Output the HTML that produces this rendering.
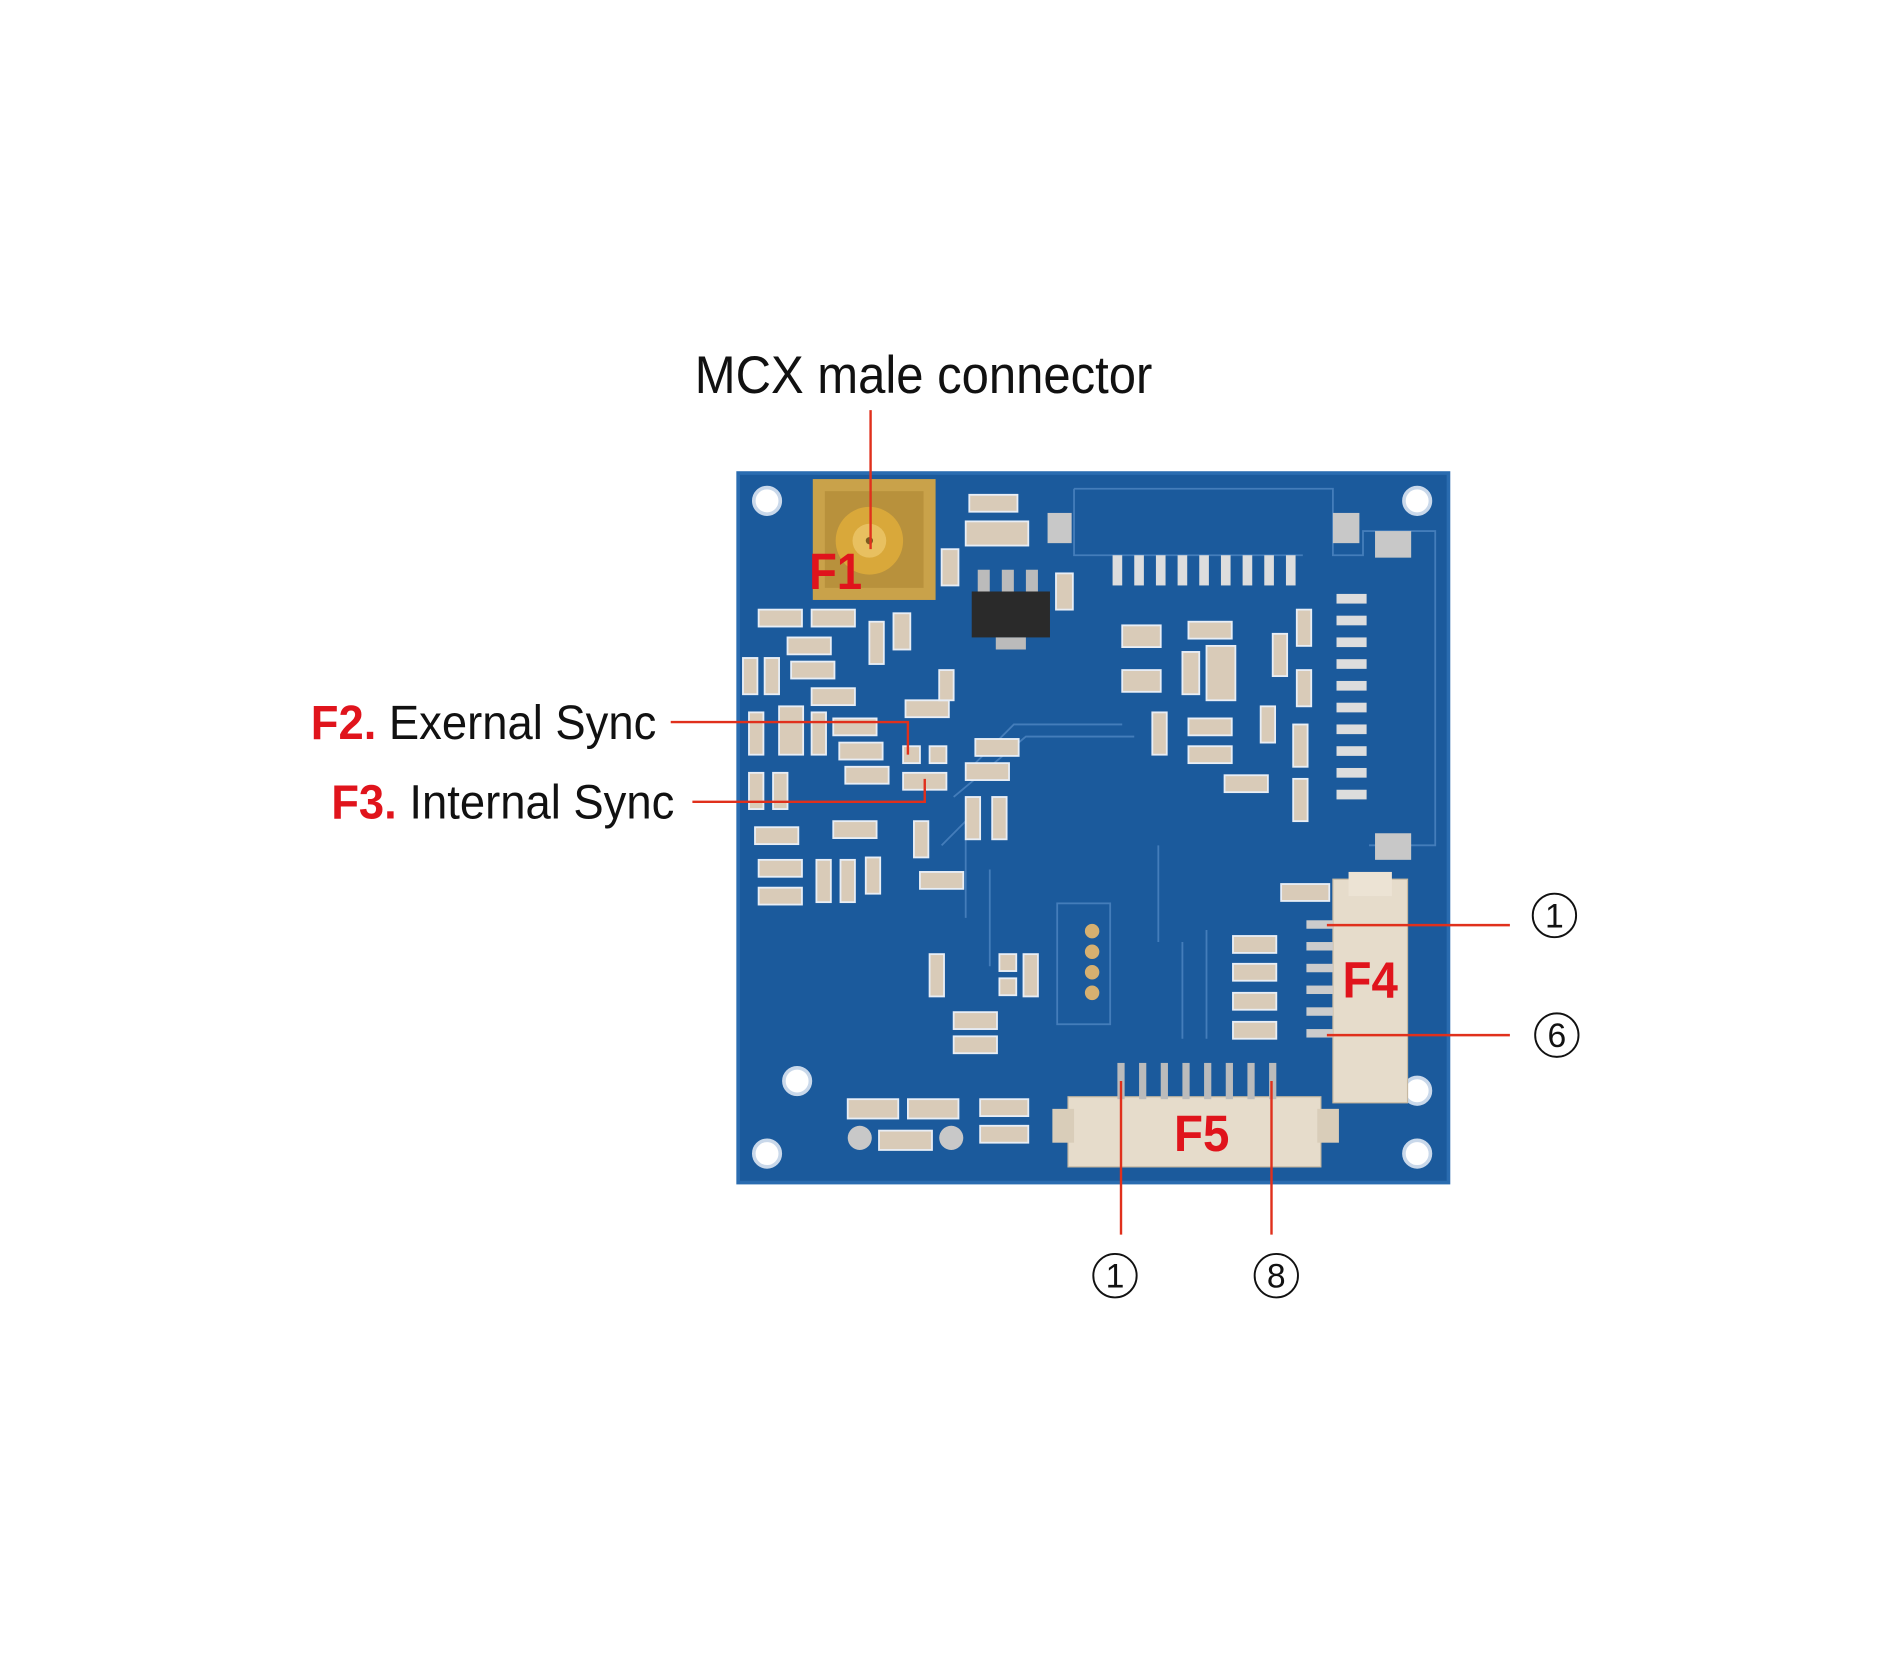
<!DOCTYPE html>
<html><head><meta charset="utf-8"><style>html,body{margin:0;padding:0;background:#fff}svg{display:block}</style></head>
<body>
<svg width="1891" height="1654" viewBox="0 0 1891 1654" xmlns="http://www.w3.org/2000/svg">
<g transform="scale(1.2122,1.2252)">
<g transform="matrix(0.9932,0,0,0.9866,2.086,-0.66)">
<!-- board -->
<rect x="611" y="392" width="590" height="587" fill="#1b5a9c"/>
<rect x="611" y="392" width="590" height="587" fill="none" stroke="#2a6cb0" stroke-width="3"/>
<g fill="none" stroke="#4f86c2" stroke-width="1.5" opacity="0.8">
<path d="M890 405 H1105 V460 H1130 V440 H1190 V700 H1135"/>
<path d="M890 405 V460 H1080"/>
<rect x="876" y="748" width="44" height="100"/>
<path d="M800 640 L840 600 H930 M790 660 L850 610 H940 M780 700 L800 680 V760 M820 720 V800 M960 700 V780 M980 780 V860 M1000 770 V860"/>
</g>
<g fill="#fff" stroke="#c9d8ea" stroke-width="3">
<circle cx="635" cy="415" r="11"/><circle cx="1175" cy="415" r="11"/>
<circle cx="660" cy="895" r="11"/><circle cx="635" cy="955" r="11"/>
<circle cx="1175" cy="955" r="11"/><circle cx="1175" cy="903" r="11"/>
</g>
<rect x="673" y="397" width="102" height="100" fill="#c9a24a"/>
<rect x="683" y="407" width="82" height="80" fill="#b8913c"/>
<circle cx="720" cy="448" r="28" fill="#d9a83a"/><circle cx="720" cy="448" r="14" fill="#e8c060"/><circle cx="720" cy="448" r="3" fill="#7a5a20"/>
<rect x="805" y="490" width="65" height="38" fill="#2a2a2a"/>
<g fill="#bbb"><rect x="810" y="472" width="10" height="18"/><rect x="830" y="472" width="10" height="18"/><rect x="850" y="472" width="10" height="18"/><rect x="825" y="528" width="25" height="10"/></g>
<g fill="#d9cbb8" stroke="#e8eef6" stroke-width="1.5">
<rect x="628" y="505" width="36" height="14"/><rect x="672" y="505" width="36" height="14"/><rect x="652" y="528" width="36" height="14"/>
<rect x="615" y="545" width="12" height="30"/><rect x="633" y="545" width="12" height="30"/><rect x="655" y="548" width="36" height="14"/>
<rect x="672" y="570" width="36" height="14"/><rect x="720" y="515" width="12" height="35"/><rect x="740" y="508" width="14" height="30"/>
<rect x="620" y="590" width="12" height="35"/><rect x="645" y="585" width="20" height="40"/><rect x="672" y="590" width="12" height="35"/>
<rect x="690" y="595" width="36" height="14"/><rect x="695" y="615" width="36" height="14"/><rect x="700" y="635" width="36" height="14"/>
<rect x="620" y="640" width="12" height="30"/><rect x="640" y="640" width="12" height="30"/><rect x="625" y="685" width="36" height="14"/>
<rect x="690" y="680" width="36" height="14"/><rect x="628" y="712" width="36" height="14"/><rect x="628" y="735" width="36" height="14"/>
<rect x="676" y="712" width="12" height="35"/><rect x="696" y="712" width="12" height="35"/><rect x="717" y="710" width="12" height="30"/>
<rect x="750" y="580" width="36" height="14"/><rect x="748" y="618" width="14" height="14"/><rect x="770" y="618" width="14" height="14"/>
<rect x="748" y="640" width="36" height="14"/><rect x="808" y="612" width="36" height="14"/><rect x="800" y="632" width="36" height="14"/>
<rect x="800" y="660" width="12" height="35"/><rect x="822" y="660" width="12" height="35"/><rect x="757" y="680" width="12" height="30"/>
<rect x="762" y="722" width="36" height="14"/><rect x="778" y="555" width="12" height="25"/><rect x="780" y="455" width="14" height="30"/>
<rect x="875" y="475" width="14" height="30"/><rect x="803" y="410" width="40" height="14"/><rect x="800" y="432" width="52" height="20"/>
<rect x="930" y="518" width="32" height="18"/><rect x="930" y="555" width="32" height="18"/><rect x="985" y="515" width="36" height="14"/>
<rect x="980" y="540" width="14" height="35"/><rect x="1000" y="535" width="24" height="45"/><rect x="955" y="590" width="12" height="35"/>
<rect x="985" y="595" width="36" height="14"/><rect x="985" y="618" width="36" height="14"/><rect x="1015" y="642" width="36" height="14"/>
<rect x="1045" y="585" width="12" height="30"/><rect x="1055" y="525" width="12" height="35"/><rect x="1075" y="505" width="12" height="30"/>
<rect x="1075" y="555" width="12" height="30"/><rect x="1072" y="600" width="12" height="35"/><rect x="1072" y="645" width="12" height="35"/>
<rect x="1022" y="775" width="36" height="14"/><rect x="1022" y="798" width="36" height="14"/><rect x="1022" y="822" width="36" height="14"/><rect x="1022" y="846" width="36" height="14"/>
<rect x="1062" y="732" width="40" height="14"/><rect x="770" y="790" width="12" height="35"/><rect x="828" y="790" width="14" height="14"/><rect x="828" y="810" width="14" height="14"/>
<rect x="848" y="790" width="12" height="35"/><rect x="790" y="838" width="36" height="14"/><rect x="790" y="858" width="36" height="14"/>
<rect x="702" y="910" width="42" height="16"/><rect x="752" y="910" width="42" height="16"/><rect x="812" y="910" width="40" height="14"/><rect x="812" y="932" width="40" height="14"/>
<rect x="728" y="936" width="44" height="16"/>
</g>
<g fill="#c8c8c8"><rect x="868" y="425" width="20" height="25"/><rect x="1105" y="425" width="22" height="25"/><rect x="1140" y="440" width="30" height="22"/><rect x="1140" y="690" width="30" height="22"/>
<circle cx="712" cy="942" r="10"/><circle cx="788" cy="942" r="10"/></g>
<g fill="#ddd"><rect x="922" y="460" width="8" height="25"/><rect x="940" y="460" width="8" height="25"/><rect x="958" y="460" width="8" height="25"/><rect x="976" y="460" width="8" height="25"/><rect x="994" y="460" width="8" height="25"/><rect x="1012" y="460" width="8" height="25"/><rect x="1030" y="460" width="8" height="25"/><rect x="1048" y="460" width="8" height="25"/><rect x="1066" y="460" width="8" height="25"/>
<rect x="1108" y="492" width="25" height="8"/><rect x="1108" y="510" width="25" height="8"/><rect x="1108" y="528" width="25" height="8"/><rect x="1108" y="546" width="25" height="8"/><rect x="1108" y="564" width="25" height="8"/><rect x="1108" y="582" width="25" height="8"/><rect x="1108" y="600" width="25" height="8"/><rect x="1108" y="618" width="25" height="8"/><rect x="1108" y="636" width="25" height="8"/><rect x="1108" y="654" width="25" height="8"/></g>
<g fill="#d6b070"><circle cx="905" cy="771" r="6"/><circle cx="905" cy="788" r="6"/><circle cx="905" cy="805" r="6"/><circle cx="905" cy="822" r="6"/></g>
<rect x="1105" y="728" width="62" height="185" fill="#e6dccb" stroke="#c7b9a2"/>
<rect x="1118" y="722" width="36" height="20" fill="#ece3d4"/>
<g fill="#ccc"><rect x="1083" y="762" width="22" height="7"/><rect x="1083" y="780" width="22" height="7"/><rect x="1083" y="798" width="22" height="7"/><rect x="1083" y="816" width="22" height="7"/><rect x="1083" y="834" width="22" height="7"/><rect x="1083" y="852" width="22" height="7"/></g>
<rect x="885" y="908" width="210" height="58" fill="#e6dccb" stroke="#c7b9a2"/>
<rect x="872" y="918" width="18" height="28" fill="#d9cdb9"/><rect x="1092" y="918" width="18" height="28" fill="#d9cdb9"/>
<g fill="#bbb"><rect x="926" y="880" width="6" height="30"/><rect x="944" y="880" width="6" height="30"/><rect x="962" y="880" width="6" height="30"/><rect x="980" y="880" width="6" height="30"/><rect x="998" y="880" width="6" height="30"/><rect x="1016" y="880" width="6" height="30"/><rect x="1034" y="880" width="6" height="30"/><rect x="1052" y="880" width="6" height="30"/></g>
<g font-family="Liberation Sans, sans-serif" font-weight="bold" fill="#e0141c" font-size="42">
<text x="670" y="488" textLength="44" lengthAdjust="spacingAndGlyphs">F1</text><text x="1113" y="826" textLength="46" lengthAdjust="spacingAndGlyphs">F4</text><text x="973" y="953" textLength="46" lengthAdjust="spacingAndGlyphs">F5</text></g>
<g stroke="#e0301c" stroke-width="2" fill="none">
<path d="M721 340 V455"/>
<path d="M555 598 H752 V625"/>
<path d="M573 664 H766 V645"/>
<path d="M1100 766 H1252"/>
<path d="M1100 857 H1252"/>
<path d="M929 895 V1022"/>
<path d="M1054 895 V1022"/>
</g>
<g font-family="Liberation Sans, sans-serif" fill="#111">
<text x="575" y="326" font-size="44" textLength="380" lengthAdjust="spacingAndGlyphs">MCX male connector</text>
<text x="256" y="612" font-size="40" textLength="287" lengthAdjust="spacingAndGlyphs"><tspan fill="#e0141c" font-weight="bold">F2.</tspan> Exernal Sync</text>
<text x="273" y="678" font-size="40" textLength="285" lengthAdjust="spacingAndGlyphs"><tspan fill="#e0141c" font-weight="bold">F3.</tspan> Internal Sync</text>
</g>
<g fill="none" stroke="#111" stroke-width="1.6">
<circle cx="1289" cy="758" r="18"/><circle cx="1291" cy="857" r="18"/><circle cx="924" cy="1056" r="18"/><circle cx="1058" cy="1056" r="18"/>
</g>
<g font-family="Liberation Sans, sans-serif" fill="#111" font-size="28" text-anchor="middle">
<text x="1289" y="768">1</text><text x="1291" y="867">6</text><text x="924" y="1066">1</text><text x="1058" y="1066">8</text>
</g>
</g>
</g>
</svg>
</body></html>
